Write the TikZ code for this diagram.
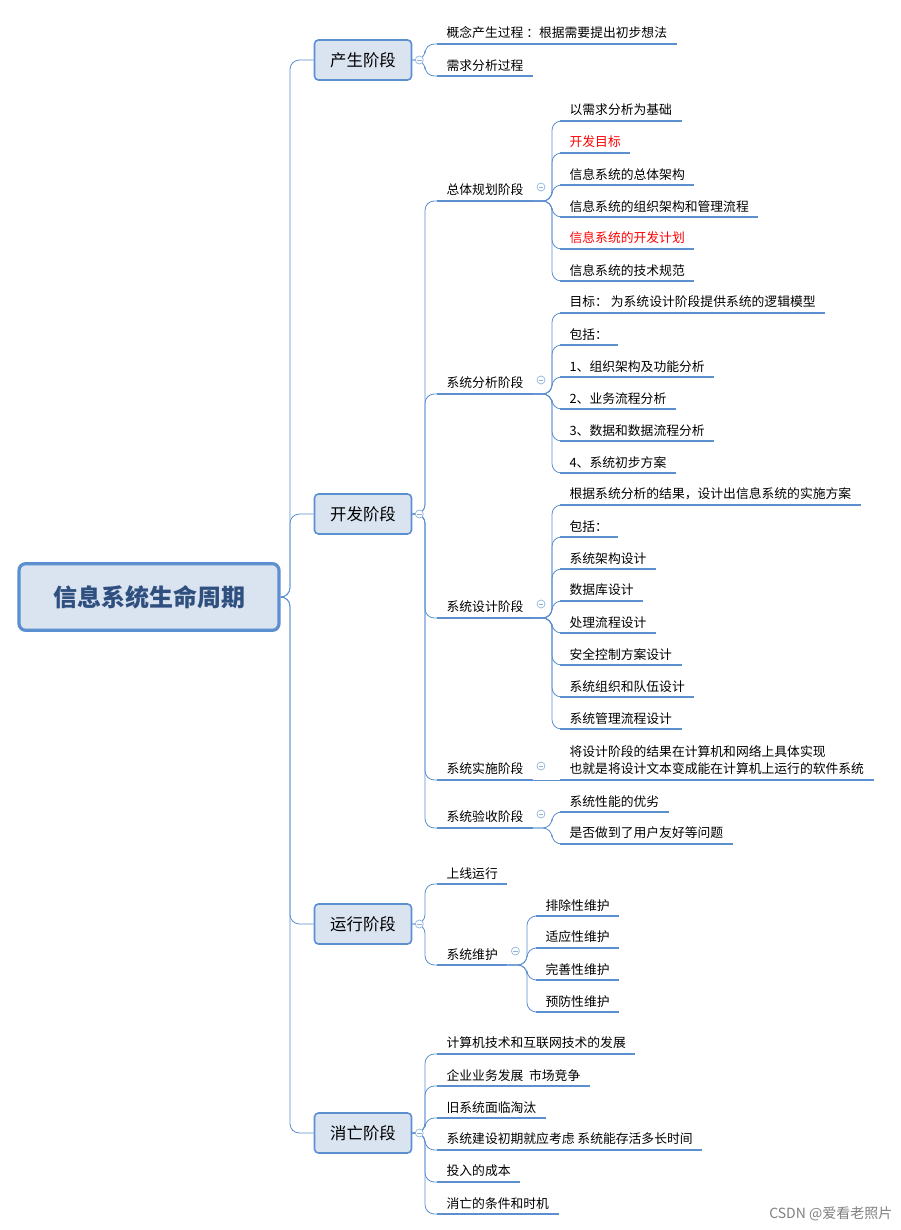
\documentclass[tikz,border=0pt]{standalone}
\usepackage{fontspec}
\setmainfont{Noto Sans CJK SC}
\definecolor{lineblue}{HTML}{5B8FD0}
\definecolor{boxfill}{HTML}{DAE3F0}
\definecolor{roottext}{HTML}{2F4F7F}
\tikzset{
  conn/.style={draw=lineblue, line width=0.6pt, rounded corners=7},
  uline/.style={draw=lineblue, line width=1.8pt},
  leaf/.style={anchor=south west, inner xsep=7pt, inner ysep=3.5pt, font=\fontsize{9.6}{13}\selectfont, align=left},
  stage/.style={draw=lineblue, line width=1.2pt, fill=boxfill, rounded corners=3pt,
    minimum width=72.75pt, minimum height=30pt, font=\fontsize{12.3}{14}\selectfont},
  icon/.style={circle, draw=lineblue!70, fill=white, line width=0.5pt, minimum size=6pt, inner sep=0pt,
    path picture={\draw[lineblue!70, line width=0.5pt] ([xshift=-1.8pt]path picture bounding box.center) -- ([xshift=1.8pt]path picture bounding box.center);}}
}
\newcommand\leaf[5][black]{%
  \node[leaf, text=#1] (#2) at (#3,#4) {#5};
  \draw[uline] (#2.south west) -- (#2.south east);}
\newcommand\link[3]{\draw[conn] (#1) -- (#1 -| #2) -- (#2 |- #3) -- (#3);}
\begin{document}
\begin{tikzpicture}[x=0.75pt, y=-0.75pt]
\useasboundingbox (0,0) rectangle (900,1230);

% root and stages
\node[draw=lineblue, line width=2.4pt, fill=boxfill, rounded corners=5pt, minimum width=195pt, minimum height=50pt,
  text=roottext, font=\fontsize{18}{22}\bfseries\selectfont] (root) at (149,597) {信息系统生命周期};
\coordinate (s0) at (290,0);
\node[stage] (birth) at (363,60) {产生阶段};
\node[stage] (devel) at (363,514) {开发阶段};
\node[stage] (oper) at (363,924) {运行阶段};
\node[stage] (death) at (363,1133) {消亡阶段};
\foreach \s in {birth,devel,oper,death}
  \link{root.east}{s0}{\s.west};

% 产生阶段
\coordinate (s1) at (425,0);
\leaf{b1}{437}{44}{概念产生过程 ：根据需要提出初步想法}
\leaf{b2}{437}{76}{需求分析过程}
\foreach \c in {b1,b2} \link{birth.east}{s1}{\c.south west};

% 开发阶段
\leaf{d1}{437}{201}{总体规划阶段}
\leaf{d2}{437}{394}{系统分析阶段}
\leaf{d3}{437}{618}{系统设计阶段}
\leaf{d4}{437}{780}{系统实施阶段}
\leaf{d5}{437}{828}{系统验收阶段}
\foreach \c in {d1,d2,d3,d4,d5} {
  \link{devel.east}{s1}{\c.south west};
  \node[icon] at ([xshift=6pt,yshift=10.5pt]\c.south east) {};
}
\coordinate (s2) at (552,0);
\leaf{p1}{560}{121}{以需求分析为基础}
\leaf[red]{p2}{560}{153}{开发目标}
\leaf{p3}{560}{185}{信息系统的总体架构}
\leaf{p4}{560}{217}{信息系统的组织架构和管理流程}
\leaf[red]{p5}{560}{249}{信息系统的开发计划}
\leaf{p6}{560}{281}{信息系统的技术规范}
\foreach \c in {p1,p2,p3,p4,p5,p6} \link{d1.south east}{s2}{\c.south west};
\leaf{a1}{560}{313}{目标： 为系统设计阶段提供系统的逻辑模型}
\leaf{a2}{560}{345}{包括：}
\leaf{a3}{560}{377}{1、组织架构及功能分析}
\leaf{a4}{560}{409}{2、业务流程分析}
\leaf{a5}{560}{441}{3、数据和数据流程分析}
\leaf{a6}{560}{473}{4、系统初步方案}
\foreach \c in {a1,a2,a3,a4,a5,a6} \link{d2.south east}{s2}{\c.south west};
\leaf{g1}{560}{505}{根据系统分析的结果，设计出信息系统的实施方案}
\leaf{g2}{560}{537}{包括：}
\leaf{g3}{560}{569}{系统架构设计}
\leaf{g4}{560}{601}{数据库设计}
\leaf{g5}{560}{633}{处理流程设计}
\leaf{g6}{560}{665}{安全控制方案设计}
\leaf{g7}{560}{697}{系统组织和队伍设计}
\leaf{g8}{560}{729}{系统管理流程设计}
\foreach \c in {g1,g2,g3,g4,g5,g6,g7,g8} \link{d3.south east}{s2}{\c.south west};
\leaf{i1}{560}{780}{将设计阶段的结果在计算机和网络上具体实现\\也就是将设计文本变成能在计算机上运行的软件系统}
\draw[conn] (d4.south east) -- (i1.south west);
\leaf{c1}{560}{812}{系统性能的优劣}
\leaf{c2}{560}{844}{是否做到了用户友好等问题}
\foreach \c in {c1,c2} \link{d5.south east}{s2}{\c.south west};

% 运行阶段
\leaf{o1}{437}{884}{上线运行}
\leaf{o2}{437}{965}{系统维护}
\foreach \c in {o1,o2} \link{oper.east}{s1}{\c.south west};
\node[icon] at ([xshift=6pt,yshift=10.5pt]o2.south east) {};
\coordinate (s3) at (527,0);
\leaf{m1}{536}{916}{排除性维护}
\leaf{m2}{536}{948}{适应性维护}
\leaf{m3}{536}{980}{完善性维护}
\leaf{m4}{536}{1012}{预防性维护}
\foreach \c in {m1,m2,m3,m4} \link{o2.south east}{s3}{\c.south west};

% 消亡阶段
\leaf{e1}{437}{1054}{计算机技术和互联网技术的发展}
\leaf{e2}{437}{1086}{企业业务发展\ \ 市场竞争}
\leaf{e3}{437}{1118}{旧系统面临淘汰}
\leaf{e4}{437}{1150}{系统建设初期就应考虑 系统能存活多长时间}
\leaf{e5}{437}{1182}{投入的成本}
\leaf{e6}{437}{1214}{消亡的条件和时机}
\foreach \c in {e1,e2,e3,e4,e5,e6} \link{death.east}{s1}{\c.south west};

\foreach \s in {birth,devel,oper,death}
  \node[icon] at ([xshift=5.25pt]\s.east) {};
\node[text=gray, font=\fontsize{10.5}{12}\selectfont, anchor=east] (mark) at (897,1214) {CSDN @爱看老照片};
\end{tikzpicture}
\end{document}
